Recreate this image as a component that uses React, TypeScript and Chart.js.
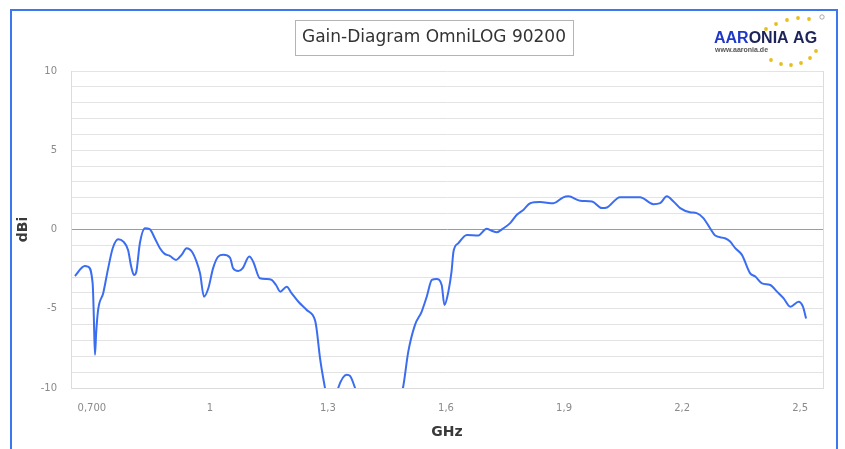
import React, { useEffect, useRef } from 'react';
import { Chart, registerables } from 'chart.js';

Chart.register(...registerables);

const chartTitle = 'Gain-Diagram OmniLOG 90200';
const xAxisTitle = 'GHz';
const yAxisTitle = 'dBi';
const logoBlue = 'AAR';
const logoDark = 'ONIA AG';
const logoUrl = 'www.aaronia.de';

const xTickValues = [0.7, 1.0, 1.3, 1.6, 1.9, 2.2, 2.5];
const xTickLabels = ['0,700', '1', '1,3', '1,6', '1,9', '2,2', '2,5'];
const yLabelValues = [10, 5, 0, -5, -10];

const freqGHz = [
  0.657, 0.682, 0.69, 0.702, 0.705, 0.706, 0.708, 0.711, 0.716, 0.729,
  0.741, 0.753, 0.767, 0.78, 0.792, 0.8, 0.807, 0.813, 0.822, 0.835,
  0.847, 0.86, 0.873, 0.885, 0.898, 0.914, 0.928, 0.941, 0.954, 0.966,
  0.975, 0.985, 0.996, 1.008, 1.021, 1.034, 1.051, 1.059, 1.072, 1.083,
  1.1, 1.11, 1.127, 1.144, 1.157, 1.168, 1.179, 1.195, 1.208, 1.225,
  1.246, 1.267, 1.271, 1.28, 1.292, 1.3, 1.315, 1.326, 1.348, 1.356,
  1.369, 1.39, 1.42, 1.46, 1.48, 1.491, 1.504, 1.521, 1.538, 1.551,
  1.564, 1.576, 1.589, 1.596, 1.606, 1.614, 1.619, 1.631, 1.653, 1.682,
  1.703, 1.716, 1.729, 1.746, 1.763, 1.78, 1.797, 1.814, 1.839, 1.873,
  1.898, 1.911, 1.941, 1.971, 1.996, 2.009, 2.042, 2.093, 2.127, 2.144,
  2.161, 2.178, 2.195, 2.22, 2.237, 2.254, 2.271, 2.284, 2.309, 2.322,
  2.335, 2.352, 2.373, 2.386, 2.403, 2.424, 2.441, 2.458, 2.475, 2.496,
  2.507, 2.515,
];

const gainDbi = [
  -2.93, -2.3, -2.34, -3.4, -5.5, -6.5, -7.9, -6.5, -5.06, -4.0,
  -2.5, -1.18, -0.61, -0.76, -1.29, -2.34, -2.87, -2.66, -0.87, 0.08,
  0.02, -0.55, -1.18, -1.54, -1.66, -1.92, -1.6, -1.18, -1.39, -2.03,
  -2.77, -4.24, -3.71, -2.45, -1.71, -1.6, -1.77, -2.45, -2.62, -2.45,
  -1.71, -2.03, -3.08, -3.12, -3.18, -3.5, -3.92, -3.61, -4.03, -4.56,
  -5.08, -5.72, -6.25, -8.15, -9.94, -11.0, -11.2, -10.0, -9.16, -9.24,
  -10.0, -11.5, -12.0, -11.8, -10.8, -9.94, -7.72, -6.03, -5.19, -4.24,
  -3.18, -3.12, -3.5, -4.77, -3.92, -2.66, -1.39, -0.87, -0.34, -0.38,
  0.04, -0.08, -0.17, 0.08, 0.4, 0.93, 1.25, 1.66, 1.73, 1.66,
  2.03, 2.09, 1.82, 1.77, 1.35, 1.39, 2.04, 2.04, 1.6, 1.66,
  2.09, 1.77, 1.35, 1.09, 1.03, 0.72, 0.08, -0.38, -0.55, -0.76,
  -1.18, -1.6, -2.77, -2.97, -3.4, -3.5, -3.92, -4.35, -4.87, -4.56,
  -4.87, -5.61,
];

const decorPlugin = {
  id: 'decor',
  afterDraw(chart: any) {
    const { ctx, chartArea } = chart;
    ctx.save();
    // right border of the plot area
    ctx.strokeStyle = '#dcdcdc';
    ctx.lineWidth = 1;
    ctx.beginPath();
    ctx.moveTo(Math.round(chartArea.right) + 0.5, chartArea.top);
    ctx.lineTo(Math.round(chartArea.right) + 0.5, chartArea.bottom);
    ctx.stroke();

    // blue outer frame
    ctx.strokeStyle = '#3b78ef';
    ctx.lineWidth = 2;
    ctx.strokeRect(11, 10, 826, 500);

    // title box
    ctx.font = '17px "DejaVu Sans"';
    ctx.textAlign = 'center';
    ctx.textBaseline = 'middle';
    const tw = ctx.measureText(chartTitle).width;
    const cx = 434;
    const cy = 38;
    ctx.fillStyle = '#ffffff';
    ctx.fillRect(cx - tw / 2 - 7, 21, tw + 14, 34);
    ctx.strokeStyle = '#b4b4b4';
    ctx.lineWidth = 1;
    ctx.strokeRect(Math.round(cx - tw / 2 - 7) + 0.5, 20.5, Math.round(tw + 14), 35);
    ctx.fillStyle = '#333333';
    ctx.fillText(chartTitle, cx, cy);

    // logo
    ctx.textAlign = 'left';
    ctx.textBaseline = 'alphabetic';
    ctx.font = 'bold 16px "Liberation Sans"';
    const lx = 714;
    const ly = 43;
    ctx.fillStyle = '#2038c8';
    ctx.fillText(logoBlue, lx, ly);
    const bw = ctx.measureText(logoBlue).width;
    ctx.fillStyle = '#1c2458';
    ctx.fillText(logoDark, lx + bw, ly);
    ctx.font = 'bold 7px "Liberation Sans"';
    ctx.fillStyle = '#555555';
    ctx.fillText(logoUrl, lx + 1, 52);
    // stars
    ctx.fillStyle = '#e6bf1e';
    const dots = [
      [766, 29], [776, 24], [787, 20], [798, 18], [809, 19],
      [771, 60], [781, 64], [791, 65], [801, 63], [810, 58], [816, 51],
    ];
    dots.forEach(([x, y]) => {
      ctx.beginPath();
      ctx.arc(x, y, 1.9, 0, Math.PI * 2);
      ctx.fill();
    });
    ctx.strokeStyle = '#999999';
    ctx.lineWidth = 0.8;
    ctx.beginPath();
    ctx.arc(822, 17, 2.2, 0, Math.PI * 2);
    ctx.stroke();
    ctx.restore();
  },
};

export default function App() {
  const canvasRef = useRef<HTMLCanvasElement | null>(null);

  useEffect(() => {
    document.body.style.margin = '0';
    document.body.style.background = '#ffffff';
    const canvas = canvasRef.current;
    if (!canvas) return;
    const chart = new Chart(canvas, {
      type: 'line',
      data: {
        datasets: [
          {
            data: freqGHz.map((x, i) => ({ x, y: gainDbi[i] })),
            borderColor: '#3b6df0',
            borderWidth: 2,
            pointRadius: 0,
            fill: false,
            cubicInterpolationMode: 'monotone',
          },
        ],
      },
      options: {
        responsive: false,
        animation: false,
        events: [],
        layout: { padding: { left: 11, top: 71, right: 22, bottom: 4 } },
        plugins: {
          legend: { display: false },
          tooltip: { enabled: false },
          title: { display: false },
        },
        scales: {
          x: {
            type: 'linear',
            min: 0.647,
            max: 2.558,
            afterBuildTicks: (scale: any) => {
              scale.ticks = xTickValues.map((v) => ({ value: v }));
            },
            afterFit: (scale: any) => {
              scale.height = 57;
            },
            grid: { display: false, drawTicks: false },
            border: { display: true, color: '#dcdcdc' },
            ticks: {
              autoSkip: false,
              maxRotation: 0,
              padding: 14,
              color: '#8a8a8a',
              font: { family: 'DejaVu Sans', size: 10 },
              callback: (value: any) => {
                const i = xTickValues.indexOf(value);
                return i >= 0 ? xTickLabels[i] : '';
              },
            },
            title: {
              display: true,
              text: xAxisTitle,
              color: '#3a3a3a',
              font: { family: 'DejaVu Sans', size: 14, weight: 'bold' },
            },
          },
          y: {
            min: -10,
            max: 10,
            afterFit: (scale: any) => {
              scale.width = 60;
            },
            grid: {
              drawTicks: false,
              color: (ctx: any) => (ctx.tick && ctx.tick.value === 0 ? '#9c9c9c' : '#e3e3e3'),
            },
            border: { display: true, color: '#dcdcdc' },
            ticks: {
              stepSize: 1,
              autoSkip: false,
              padding: 14,
              color: '#8a8a8a',
              font: { family: 'DejaVu Sans', size: 10 },
              callback: (value: any) => (yLabelValues.includes(value) ? String(value) : ''),
            },
            title: {
              display: true,
              text: yAxisTitle,
              color: '#3a3a3a',
              font: { family: 'DejaVu Sans', size: 14, weight: 'bold' },
            },
          },
        },
      } as any,
      plugins: [decorPlugin],
    });
    return () => chart.destroy();
  }, []);

  return (
    <div style={{ width: 845, height: 449, position: 'relative', background: '#ffffff' }}>
      <canvas ref={canvasRef} width={845} height={449} style={{ display: 'block' }} />
    </div>
  );
}
